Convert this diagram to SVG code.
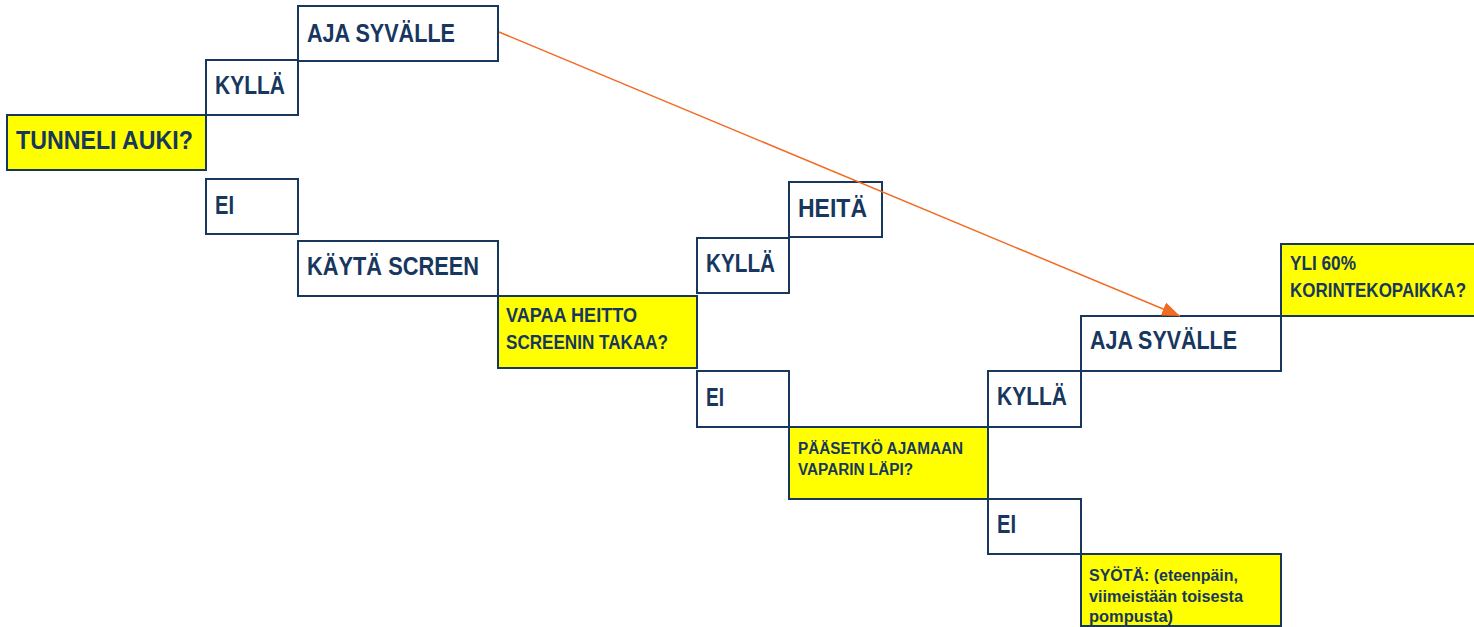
<svg xmlns="http://www.w3.org/2000/svg" width="1474" height="627" viewBox="0 0 1474 627">
<style>
.box{fill:#ffffff;stroke:#17375E;stroke-width:2}
.q{fill:#FFFF00;stroke:#17375E;stroke-width:2}
text{font-family:"Liberation Sans Narrow","Liberation Sans",Arial,sans-serif;font-weight:bold;fill:#17375E}
.l{font-size:25px}
.m{font-size:20px}
.s{font-size:16px}
.conn{stroke:#F26B22;stroke-width:1.5;fill:none}
</style>
<defs>
<marker id="ah" markerUnits="userSpaceOnUse" markerWidth="18" markerHeight="14" viewBox="0 0 18 14" refX="18" refY="7" orient="auto">
<path d="M0,0 L18,7 L0,14 z" fill="#F26B22"/>
</marker>
</defs>
<rect width="1474" height="627" fill="#ffffff"/>
<g id="n-tunneli"><rect class="q" x="7" y="115" width="199" height="55"/><text class="l" x="16" y="149" textLength="177" lengthAdjust="spacingAndGlyphs">TUNNELI AUKI?</text></g>
<g id="n-kylla1"><rect class="box" x="206" y="60" width="92" height="55"/><text class="l" x="215" y="94" textLength="70" lengthAdjust="spacingAndGlyphs">KYLLÄ</text></g>
<g id="n-aja1"><rect class="box" x="298" y="6" width="200" height="55"/><text class="l" x="307" y="41.5" textLength="148" lengthAdjust="spacingAndGlyphs">AJA SYVÄLLE</text></g>
<g id="n-ei1"><rect class="box" x="206" y="179" width="92" height="55"/><text class="l" x="215" y="214" textLength="19" lengthAdjust="spacingAndGlyphs">EI</text></g>
<g id="n-screen"><rect class="box" x="298" y="241" width="200" height="55"/><text class="l" x="307" y="275" textLength="172" lengthAdjust="spacingAndGlyphs">KÄYTÄ SCREEN</text></g>
<g id="n-vapaa"><rect class="q" x="498" y="296" width="199" height="72"/><text class="m" x="506" y="322" textLength="131" lengthAdjust="spacingAndGlyphs">VAPAA HEITTO</text><text class="m" x="506" y="349" textLength="162" lengthAdjust="spacingAndGlyphs">SCREENIN TAKAA?</text></g>
<g id="n-kylla2"><rect class="box" x="697" y="238" width="92" height="55"/><text class="l" x="706" y="272" textLength="69" lengthAdjust="spacingAndGlyphs">KYLLÄ</text></g>
<g id="n-heita"><rect class="box" x="789" y="182" width="93" height="55"/><text class="l" x="798" y="217" textLength="69" lengthAdjust="spacingAndGlyphs">HEITÄ</text></g>
<g id="n-ei2"><rect class="box" x="697" y="371" width="92" height="56"/><text class="l" x="706" y="406" textLength="18" lengthAdjust="spacingAndGlyphs">EI</text></g>
<g id="n-paasetko"><rect class="q" x="789" y="427" width="199" height="72"/><text class="s" x="798" y="454" textLength="165" lengthAdjust="spacingAndGlyphs">PÄÄSETKÖ AJAMAAN</text><text class="s" x="798" y="475" textLength="115" lengthAdjust="spacingAndGlyphs">VAPARIN LÄPI?</text></g>
<g id="n-kylla3"><rect class="box" x="988" y="371" width="93" height="56"/><text class="l" x="997" y="405" textLength="70" lengthAdjust="spacingAndGlyphs">KYLLÄ</text></g>
<g id="n-aja2"><rect class="box" x="1081" y="316" width="200" height="55"/><text class="l" x="1090" y="349" textLength="147" lengthAdjust="spacingAndGlyphs">AJA SYVÄLLE</text></g>
<g id="n-yli"><rect class="q" x="1281" y="244" width="200" height="72"/><text class="m" x="1290" y="270" textLength="66" lengthAdjust="spacingAndGlyphs">YLI 60%</text><text class="m" x="1290" y="297" textLength="176" lengthAdjust="spacingAndGlyphs">KORINTEKOPAIKKA?</text></g>
<g id="n-ei3"><rect class="box" x="988" y="499" width="93" height="55"/><text class="l" x="997" y="533" textLength="19" lengthAdjust="spacingAndGlyphs">EI</text></g>
<g id="n-syota"><rect class="q" x="1081" y="554" width="200" height="72"/><text class="s" x="1089" y="581" textLength="149" lengthAdjust="spacingAndGlyphs">SYÖTÄ: (eteenpäin,</text><text class="s" x="1089" y="602" textLength="154" lengthAdjust="spacingAndGlyphs">viimeistään toisesta</text><text class="s" x="1089" y="622" textLength="84" lengthAdjust="spacingAndGlyphs">pompusta)</text></g>
<g id="connectors"><line class="conn" x1="499" y1="32" x2="1180" y2="316" marker-end="url(#ah)"/></g>
</svg>
